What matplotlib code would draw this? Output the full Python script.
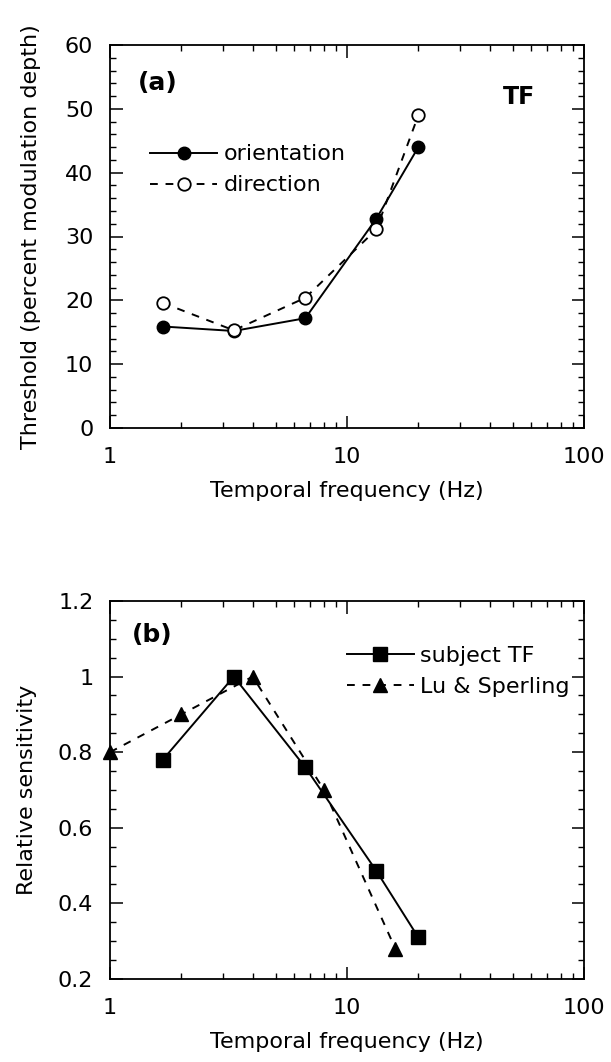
import numpy as np
import matplotlib
matplotlib.use("Agg")
import matplotlib.pyplot as plt
from matplotlib.ticker import LogLocator, MultipleLocator, FixedLocator

# panel (a): thresholds vs temporal frequency
tf_a = [1.67, 3.33, 6.67, 13.3, 20]
orientation = [15.9, 15.2, 17.2, 32.8, 44.0]
direction = [19.6, 15.3, 20.4, 31.1, 49.0]

# panel (b): relative sensitivity
tf_subject = [1.67, 3.33, 6.67, 13.3, 20]
subject_tf = [0.78, 1.0, 0.76, 0.486, 0.31]
tf_lu = [1, 2, 4, 8, 16]
lu_sperling = [0.80, 0.90, 1.0, 0.70, 0.28]

plt.rcParams['font.family'] = ['DejaVu Sans']
plt.rcParams['font.size'] = 16

fig = plt.figure(figsize=(6.11, 10.62), dpi=100)
W, H = 611, 1062
ax1 = fig.add_axes([110 / W, 1 - 428 / H, 474 / W, 383 / H])
ax2 = fig.add_axes([110 / W, 1 - 979 / H, 474 / W, 378 / H])

dash = (0, (4, 4))

ax1.plot(tf_a, orientation, '-', color='black', lw=1.4, marker='o', ms=9,
         mfc='black', mec='black', label='orientation')
ax1.plot(tf_a, direction, linestyle=dash, color='black', lw=1.4, marker='o', ms=9,
         mfc='white', mec='black', mew=1.3, label='direction')

ax2.plot(tf_subject, subject_tf, '-', color='black', lw=1.4, marker='s', ms=9.5,
         mfc='black', mec='black', label='subject TF')
ax2.plot(tf_lu, lu_sperling, linestyle=dash, color='black', lw=1.4, marker='^', ms=9.5,
         mfc='black', mec='black', label='Lu & Sperling', clip_on=False)

for ax in (ax1, ax2):
    ax.set_xscale('log')
    ax.set_xlim(1, 100)
    ax.xaxis.set_major_locator(FixedLocator([1, 10, 100]))
    ax.xaxis.set_minor_locator(LogLocator(base=10, subs=np.arange(2, 10)))
    ax.set_xticklabels(['1', '10', '100'])
    ax.tick_params(which='both', direction='in', top=True, right=True)
    ax.tick_params(which='major', length=9, width=1.1)
    ax.tick_params(which='minor', length=4.5, width=1)
    ax.tick_params(axis='x', which='major', pad=14)
    ax.tick_params(axis='y', which='major', pad=12)
    for s in ax.spines.values():
        s.set_linewidth(1.3)
    ax.set_xlabel('Temporal frequency (Hz)', labelpad=10)

ax1.set_ylim(0, 60)
ax1.yaxis.set_major_locator(MultipleLocator(10))
ax1.yaxis.set_minor_locator(MultipleLocator(2))
ax1.set_ylabel('Threshold (percent modulation depth)', labelpad=17)
ax1.text(0.059, 0.90, '(a)', transform=ax1.transAxes, fontsize=18,
         fontweight='bold', ha='left', va='center')
ax1.text(0.863, 0.864, 'TF', transform=ax1.transAxes, fontsize=17,
         fontweight='bold', ha='center', va='center')
ax1.legend(loc='center left', bbox_to_anchor=(0.085, 0.674), frameon=False,
           handlelength=3.0, handletextpad=0.3, labelspacing=0.5,
           borderpad=0, borderaxespad=0, fontsize=16)

ax2.set_ylim(0.2, 1.2)
ax2.yaxis.set_major_locator(FixedLocator([0.2, 0.4, 0.6, 0.8, 1.0, 1.2]))
ax2.set_yticklabels(['0.2', '0.4', '0.6', '0.8', '1', '1.2'])
ax2.yaxis.set_minor_locator(MultipleLocator(0.05))
ax2.set_ylabel('Relative sensitivity', labelpad=15)
ax2.text(0.046, 0.91, '(b)', transform=ax2.transAxes, fontsize=18,
         fontweight='bold', ha='left', va='center')
ax2.legend(loc='center left', bbox_to_anchor=(0.50, 0.813), frameon=False,
           handlelength=3.0, handletextpad=0.3, labelspacing=0.5,
           borderpad=0, borderaxespad=0, fontsize=16)

fig.savefig('out.png', dpi=100)
